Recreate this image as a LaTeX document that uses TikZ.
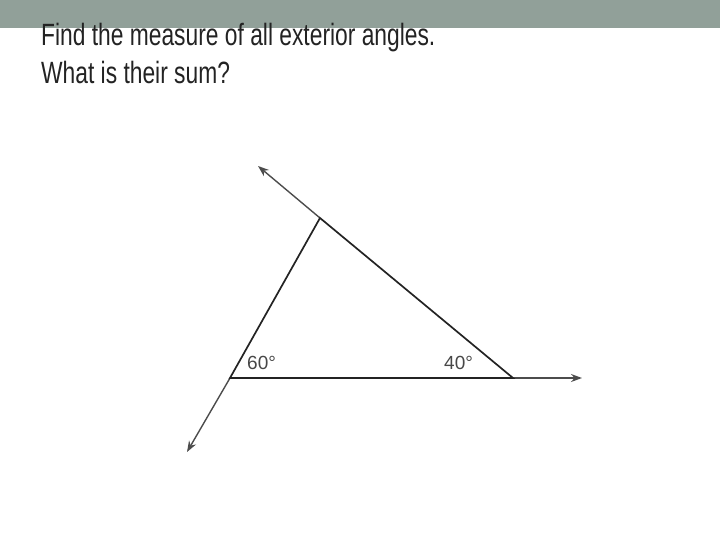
\documentclass[tikz,border=0pt]{standalone}
\usepackage{fontspec}
\setmainfont{Liberation Sans}
\usetikzlibrary{arrows.meta}
\definecolor{barcol}{RGB}{145,160,153}
\definecolor{inkcol}{RGB}{35,35,35}
\tikzset{
  side/.style={line width=1.7bp,draw=inkcol},
  ray/.style={line width=1.4bp,draw=black!70,-{Stealth[length=11bp,width=8bp]}},
  question/.style={anchor=base west,inner sep=0pt,text=inkcol,
    font=\fontsize{22.8bp}{27bp}\selectfont},
  anglabel/.style={anchor=base west,inner sep=0pt,text=black!72,
    font=\fontsize{19bp}{22bp}\selectfont}
}
\begin{document}
\begin{tikzpicture}[x=1bp,y=-1bp]
  \useasboundingbox (0,0) rectangle (720,540);
  \fill[barcol] (0,0) rectangle (720,28.5);

  \node[question] (q1) at (41,46) {\scalebox{1}[1.35]{Find the measure of all exterior angles.}};
  \node[question] (q2) at (41,84) {\scalebox{1}[1.35]{What is their sum?}};

  % triangle vertices
  \coordinate (A) at (230,378);
  \coordinate (B) at (320,218);
  \coordinate (C) at (513,378);

  % free ends of the extended sides
  \coordinate (A') at (187,452);
  \coordinate (B') at (258,166);
  \coordinate (C') at (582,378);

  \draw[ray] (A) -- (A');
  \draw[ray] (B) -- (B');
  \draw[ray] (C) -- (C');

  \draw[side] (A) -- (B) -- (C) -- cycle;

  \node[anglabel] (a60) at (247,369) {60°};
  \node[anglabel] (a40) at (444,369) {40°};
\end{tikzpicture}
\end{document}
